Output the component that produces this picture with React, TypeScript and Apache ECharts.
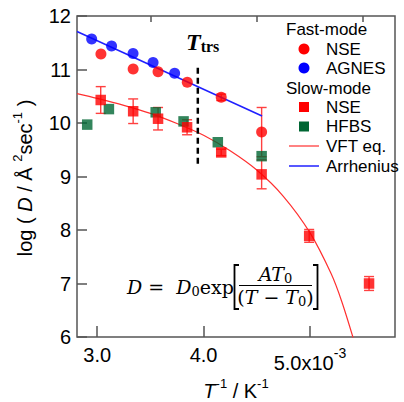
import React, { useEffect, useRef } from 'react';
import * as echarts from 'echarts';

// Fast-mode NSE (circles)
const fastNseX = [3.035, 3.338, 3.572, 3.847, 4.166, 4.546];
const fastNseY = [11.29, 11.01, 10.96, 10.76, 10.48, 9.83];
const fastNseErr = [0, 0, 0, 0, 0.06, 0.46];
// Fast-mode AGNES (circles)
const agnesX = [2.948, 3.135, 3.337, 3.525, 3.728];
const agnesY = [11.57, 11.44, 11.3, 11.13, 10.93];
// Slow-mode NSE (squares)
const slowNseX = [3.033, 3.338, 3.572, 3.845, 4.166, 4.546, 4.993, 5.556];
const slowNseY = [10.43, 10.22, 10.08, 9.92, 9.45, 9.04, 7.89, 7.0];
const slowNseErr = [0.25, 0.23, 0.21, 0.14, 0.06, 0.27, 0.12, 0.13];
// Slow-mode HFBS (squares)
const hfbsX = [2.906, 3.11, 3.55, 3.812, 4.134, 4.546];
const hfbsY = [9.97, 10.26, 10.2, 10.03, 9.64, 9.38];
// VFT fit curve
const vftX = [2.81, 3.0, 3.25, 3.5, 3.75, 4.0, 4.25, 4.5, 4.75, 5.0, 5.2, 5.3, 5.41];
const vftY = [10.55, 10.46, 10.33, 10.18, 9.99, 9.77, 9.48, 9.12, 8.63, 7.95, 7.18, 6.66, 5.96];
// Arrhenius line
const arrX = [2.81, 4.55];
const arrY = [11.71, 10.13];
// T_trs marker
const ttrsX = [3.946, 3.946];
const ttrsY = [9.24, 11.1];

const xMajor = [3, 4, 5];
const xMinor = [3.5, 4.5, 5.5];

const SANS = 'Liberation Sans';
const SERIF = 'DejaVu Serif';
const FRAME = '#555';

function pairs(xs: number[], ys: number[]) {
  return xs.map((x, i) => [x, ys[i]]);
}
function triples(xs: number[], ys: number[], es: number[]) {
  return xs.map((x, i) => [x, ys[i], es[i]]);
}

function errorBars(data: number[][], color: string) {
  return {
    type: 'custom',
    xAxisIndex: 0,
    yAxisIndex: 0,
    z: 2,
    clip: true,
    encode: { x: 0, y: 1 },
    data,
    renderItem: (params: any, api: any) => {
      const x = api.value(0);
      const y = api.value(1);
      const e = api.value(2);
      if (!e) return null;
      const top = api.coord([x, y + e]);
      const bot = api.coord([x, y - e]);
      const hw = 5;
      const st = { stroke: color, lineWidth: 1.4 };
      return {
        type: 'group',
        children: [
          { type: 'line', shape: { x1: top[0], y1: top[1], x2: bot[0], y2: bot[1] }, style: st },
          { type: 'line', shape: { x1: top[0] - hw, y1: top[1], x2: top[0] + hw, y2: top[1] }, style: st },
          { type: 'line', shape: { x1: bot[0] - hw, y1: bot[1], x2: bot[0] + hw, y2: bot[1] }, style: st },
        ],
      };
    },
  };
}

const supRich = { fontSize: 13, fontFamily: SANS, padding: [0, 0, 16, 0] };

export default function App() {
  const ref = useRef<HTMLDivElement>(null);
  useEffect(() => {
    const chart = echarts.init(ref.current!, null, { renderer: 'svg' });
    const legendText = (text: string, x: number, y: number) => ({
      type: 'text',
      x,
      y,
      style: { text, fontSize: 17, fontFamily: SANS, fill: '#000', verticalAlign: 'middle', align: 'left' },
    });
    chart.setOption({
      animation: false,
      backgroundColor: '#fff',
      grid: {
        left: 77,
        top: 16,
        right: 9,
        bottom: 65,
        show: true,
        borderColor: FRAME,
        borderWidth: 1.5,
      },
      xAxis: [
        {
          type: 'value',
          min: 2.81,
          max: 5.8,
          splitLine: { show: false },
          axisLine: { show: false },
          axisTick: { show: true, inside: true, length: 11, customValues: xMajor, lineStyle: { color: FRAME, width: 1.5 } },
          axisLabel: {
            customValues: xMajor,
            fontSize: 20,
            fontFamily: SANS,
            color: '#000',
            margin: 8,
            formatter: (v: number) => (Math.abs(v - 5) < 1e-9 ? '{m|5.0x10}{s|-3}' : v.toFixed(1)),
            rich: {
              m: { fontSize: 20, fontFamily: SANS, color: '#000', padding: [8, 0, 0, 0] },
              s: { fontSize: 14, fontFamily: SANS, color: '#000', padding: [0, 0, 12, 0] },
            },
          },
        },
        {
          type: 'value',
          min: 2.81,
          max: 5.8,
          splitLine: { show: false },
          axisLine: { show: false },
          axisLabel: { show: false },
          axisTick: { show: true, inside: true, length: 6, customValues: xMinor, lineStyle: { color: FRAME, width: 1.5 } },
        },
      ],
      yAxis: {
        type: 'value',
        min: 6,
        max: 12,
        interval: 1,
        splitLine: { show: false },
        axisLine: { show: false },
        axisTick: { show: true, inside: true, length: 10, lineStyle: { color: FRAME, width: 1.5 } },
        axisLabel: { fontSize: 20, fontFamily: SANS, color: '#000', margin: 6 },
      },
      series: [
        {
          type: 'line',
          name: 'VFT eq.',
          data: pairs(vftX, vftY),
          smooth: 0.3,
          showSymbol: false,
          clip: true,
          z: 2,
          lineStyle: { color: '#ff3030', width: 1.2 },
        },
        {
          type: 'line',
          name: 'Arrhenius',
          data: pairs(arrX, arrY),
          showSymbol: false,
          clip: true,
          z: 2,
          lineStyle: { color: '#2020ff', width: 1.5 },
        },
        {
          type: 'line',
          name: 'Ttrs',
          data: pairs(ttrsX, ttrsY),
          showSymbol: false,
          z: 2,
          lineStyle: { color: '#000', width: 2.5, type: [6, 4] },
        },
        errorBars(triples(slowNseX, slowNseY, slowNseErr), '#ff4040'),
        errorBars(triples(fastNseX, fastNseY, fastNseErr), '#ff4040'),
        {
          type: 'scatter',
          name: 'HFBS',
          data: pairs(hfbsX, hfbsY),
          symbol: 'rect',
          symbolSize: 10.5,
          z: 3,
          itemStyle: { color: '#006633' },
        },
        {
          type: 'scatter',
          name: 'NSE slow',
          data: pairs(slowNseX, slowNseY),
          symbol: 'rect',
          symbolSize: 10.5,
          z: 3,
          itemStyle: { color: '#ff0000' },
        },
        {
          type: 'scatter',
          name: 'AGNES',
          data: pairs(agnesX, agnesY),
          symbol: 'circle',
          symbolSize: 11,
          z: 3,
          itemStyle: { color: '#0000ff' },
        },
        {
          type: 'scatter',
          name: 'NSE fast',
          data: pairs(fastNseX, fastNseY),
          symbol: 'circle',
          symbolSize: 11,
          z: 3,
          itemStyle: { color: '#ff0000' },
        },
      ],
      graphic: [
        // Legend
        legendText('Fast-mode', 286, 29),
        { type: 'circle', shape: { cx: 304, cy: 49, r: 5.5 }, style: { fill: '#ff0000' } },
        legendText('NSE', 326, 49),
        { type: 'circle', shape: { cx: 304, cy: 68, r: 5.5 }, style: { fill: '#0000ff' } },
        legendText('AGNES', 326, 68),
        legendText('Slow-mode', 286, 88),
        { type: 'rect', shape: { x: 299, y: 102, width: 10, height: 10 }, style: { fill: '#ff0000' } },
        legendText('NSE', 326, 107),
        { type: 'rect', shape: { x: 299, y: 121.5, width: 10, height: 10 }, style: { fill: '#006633' } },
        legendText('HFBS', 326, 126.5),
        { type: 'line', shape: { x1: 289, y1: 146, x2: 319, y2: 146 }, style: { stroke: '#ff3030', lineWidth: 1.2 } },
        legendText('VFT eq.', 326, 146),
        { type: 'line', shape: { x1: 289, y1: 166, x2: 319, y2: 166 }, style: { stroke: '#2020ff', lineWidth: 1.5 } },
        legendText('Arrhenius', 326, 166),
        // T_trs label
        {
          type: 'text',
          x: 186,
          y: 42,
          style: {
            text: '{t|T}{s|trs}',
            verticalAlign: 'middle',
            align: 'left',
            rich: {
              t: { fontSize: 24, fontFamily: 'Liberation Serif', fontStyle: 'italic', fontWeight: 'bold', fill: '#000' },
              s: { fontSize: 16, fontFamily: 'Liberation Serif', fontWeight: 'bold', fill: '#000', padding: [9, 0, 0, 0] },
            },
          },
        },
        // Formula
        {
          type: 'text',
          x: 127,
          y: 287,
          style: {
            text: '{i|D}{n| =  }{i|D}{b|0}{n|exp}',
            verticalAlign: 'middle',
            align: 'left',
            rich: {
              i: { fontSize: 19, fontFamily: SERIF, fontStyle: 'italic', fill: '#000' },
              n: { fontSize: 19, fontFamily: SERIF, fill: '#000' },
              b: { fontSize: 13, fontFamily: SERIF, fill: '#000', padding: [9, 0, 0, 0] },
            },
          },
        },
        { type: 'polyline', shape: { points: [[239, 265], [234.5, 265], [234.5, 309], [239, 309]] }, style: { stroke: '#000', lineWidth: 1.8, fill: 'none' } },
        { type: 'polyline', shape: { points: [[313, 265], [317.5, 265], [317.5, 309], [313, 309]] }, style: { stroke: '#000', lineWidth: 1.8, fill: 'none' } },
        { type: 'line', shape: { x1: 239, y1: 285.5, x2: 312, y2: 285.5 }, style: { stroke: '#000', lineWidth: 1 } },
        {
          type: 'text',
          x: 275.5,
          y: 274,
          style: {
            text: '{i|AT}{b|0}',
            verticalAlign: 'middle',
            align: 'center',
            rich: {
              i: { fontSize: 19, fontFamily: SERIF, fontStyle: 'italic', fill: '#000' },
              b: { fontSize: 13, fontFamily: SERIF, fill: '#000', padding: [9, 0, 0, 0] },
            },
          },
        },
        {
          type: 'text',
          x: 275.5,
          y: 297,
          style: {
            text: '{n|(}{i|T}{n| − }{i|T}{b|0}{n|)}',
            verticalAlign: 'middle',
            align: 'center',
            rich: {
              i: { fontSize: 19, fontFamily: SERIF, fontStyle: 'italic', fill: '#000' },
              n: { fontSize: 19, fontFamily: SERIF, fill: '#000' },
              b: { fontSize: 13, fontFamily: SERIF, fill: '#000', padding: [9, 0, 0, 0] },
            },
          },
        },
        // X axis title
        {
          type: 'text',
          x: 236,
          y: 391,
          style: {
            text: '{i|T}{s|-1}{n| / K}{s|-1}',
            verticalAlign: 'middle',
            align: 'center',
            rich: {
              i: { fontSize: 20, fontFamily: SANS, fontStyle: 'italic', fill: '#000' },
              n: { fontSize: 20, fontFamily: SANS, fill: '#000' },
              s: { ...supRich, fill: '#000' },
            },
          },
        },
        // Y axis title
        {
          type: 'text',
          x: 25,
          y: 178,
          rotation: Math.PI / 2,
          style: {
            text: '{n|log ( }{i|D}{n| / Å }{s|2}{n|sec}{s|-1}{n| )}',
            verticalAlign: 'middle',
            align: 'center',
            rich: {
              i: { fontSize: 20, fontFamily: SANS, fontStyle: 'italic', fill: '#000' },
              n: { fontSize: 20, fontFamily: SANS, fill: '#000' },
              s: { ...supRich, fill: '#000' },
            },
          },
        },
      ],
    });
    return () => chart.dispose();
  }, []);
  return <div ref={ref} style={{ position: 'fixed', left: 0, top: 0, width: 404, height: 402 }} />;
}
